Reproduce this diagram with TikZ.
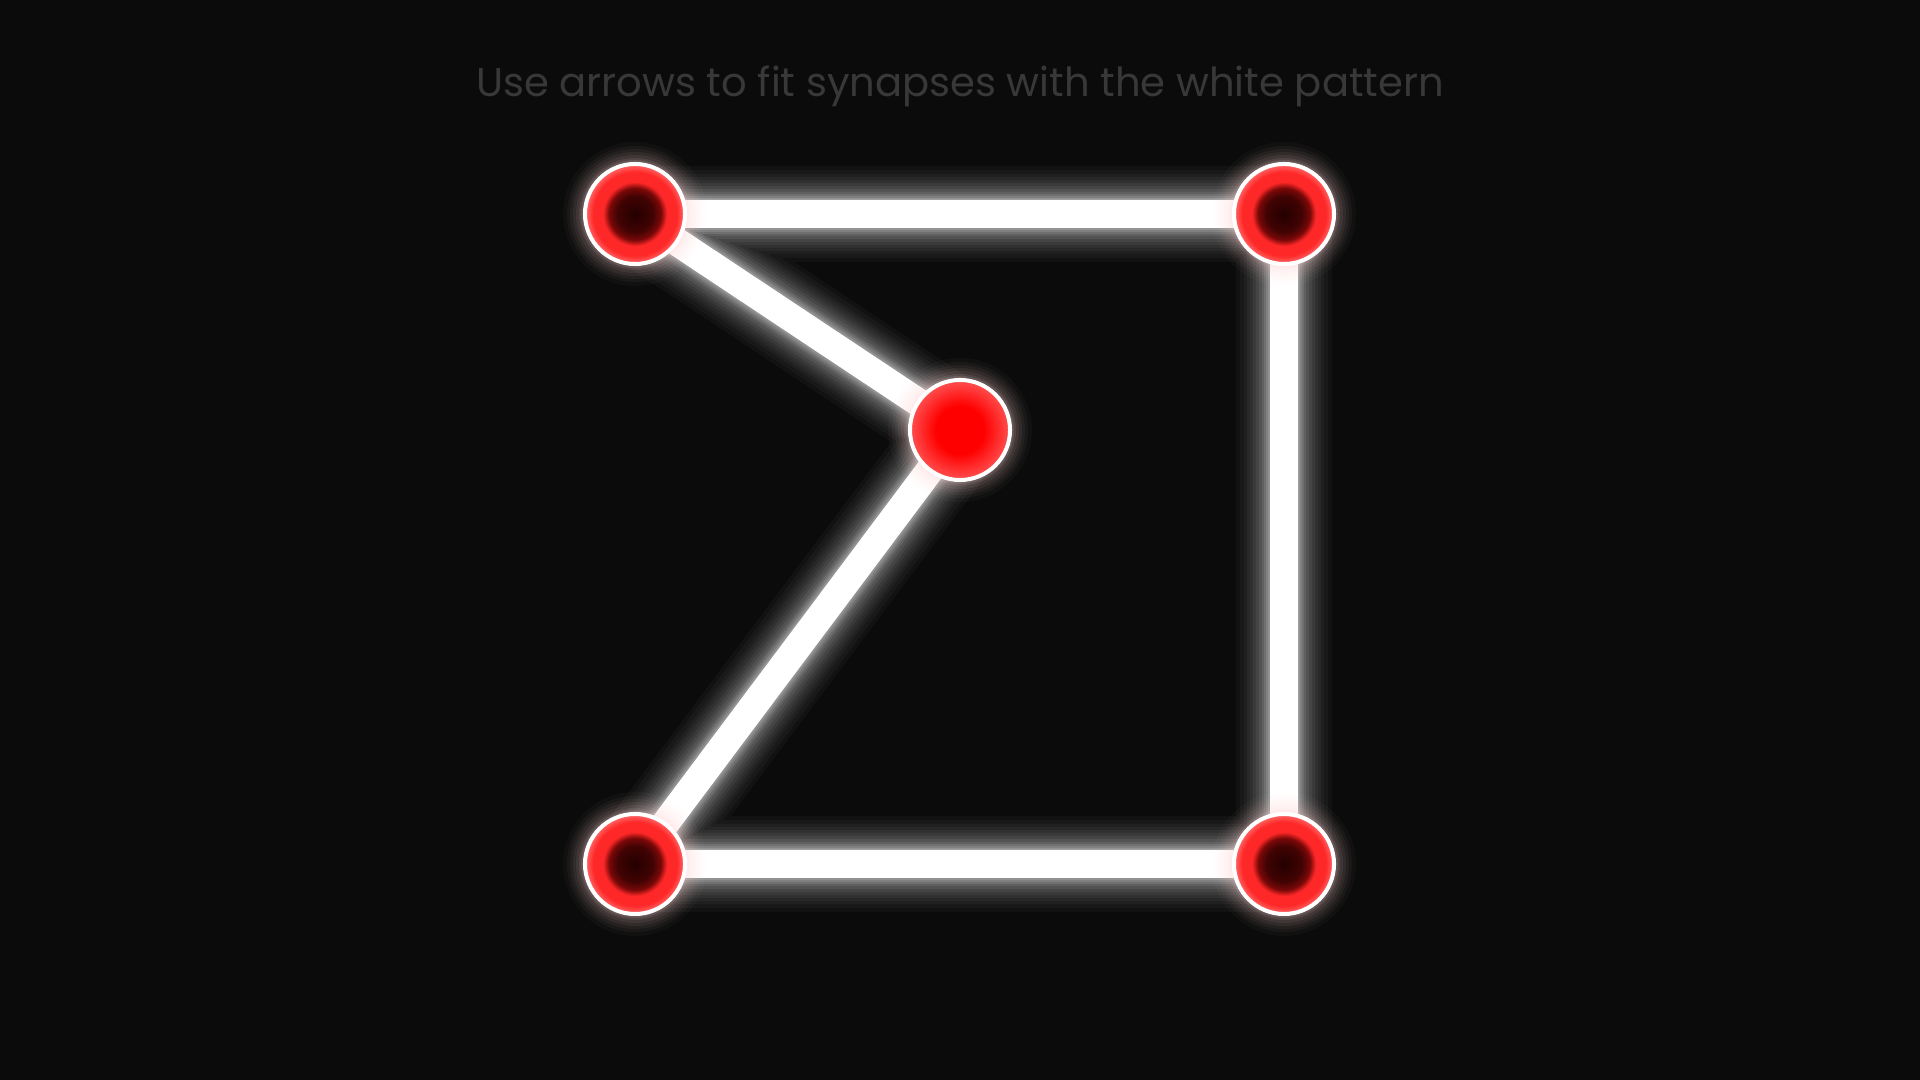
\documentclass[tikz,border=0pt]{standalone}
\usepackage{fontspec}
\setmainfont{Poppins}
\pgfdeclarelayer{background}
\pgfsetlayers{background,main}
\definecolor{screen}{HTML}{0B0B0B}
\definecolor{hintgray}{HTML}{383838}
\definecolor{coredark}{HTML}{240000}
\definecolor{coremid}{HTML}{420303}
\definecolor{coreedge}{HTML}{7A0808}
\definecolor{synred}{HTML}{FF2828}
\definecolor{synpink}{HTML}{FF6E6E}
\definecolor{hotred}{HTML}{FF0000}
\definecolor{hotedge}{HTML}{FF5050}
\definecolor{halo}{HTML}{FFD2D2}
\pgfdeclareradialshading{synapseshade}{\pgfpointorigin}{color(0bp)=(coredark); color(9bp)=(coremid); color(13bp)=(coreedge); color(16bp)=(synred); color(21bp)=(synred); color(25bp)=(synpink); color(50bp)=(synpink)}
\pgfdeclareradialshading{activeshade}{\pgfpointorigin}{color(0bp)=(hotred); color(12bp)=(hotred); color(25bp)=(hotedge); color(50bp)=(hotedge)}
\newcommand{\pxu}{0.2845pt}
\tikzset{
  synapse/.style={circle, inner sep=0pt, minimum size=1.0cm, draw=white, line width=4*\pxu, shading=synapseshade},
  active/.style={synapse, shading=activeshade},
  hint/.style={text=hintgray, font=\fontsize{11.4pt}{13pt}\selectfont}
}
\begin{document}
\begin{tikzpicture}[x=0.01cm, y=-0.01cm]
% synapses
\node[synapse] (tl) at (635,214) {};
\node[synapse] (tr) at (1284,214) {};
\node[active] (mid) at (960,430) {};
\node[synapse] (bl) at (635,864) {};
\node[synapse] (br) at (1284,864) {};
\node[hint] (msg) at (960,86) {Use arrows to fit synapses with the white pattern};

\begin{pgfonlayer}{background}
\fill[screen] (0,0) rectangle (1920,1080);
% glow of the pattern
\foreach \w/\o in {96/.03,88/.03,80/.03,74/.04,68/.04,62/.05,56/.06,50/.07,44/.08,40/.1,36/.12,32/.15}
{
    \draw[white, opacity=\o, line width=\w*\pxu, line join=round] (tl.center) -- (tr.center) -- (br.center) -- (bl.center) -- (mid.center) -- cycle;
}
\draw[white, line width=28*\pxu, line join=round] (tl.center) -- (tr.center) -- (br.center) -- (bl.center) -- (mid.center) -- cycle;
% halo round the synapses
\foreach \n in {tl,tr,mid,bl,br}
{
    \foreach \r/\o in {72/.03,68/.04,65/.05,62/.06,59/.07,56/.09,54/.12}
    {
        \fill[halo, opacity=\o] (\n.center) circle (\r);
    }
}
\end{pgfonlayer}
\end{tikzpicture}
\end{document}
